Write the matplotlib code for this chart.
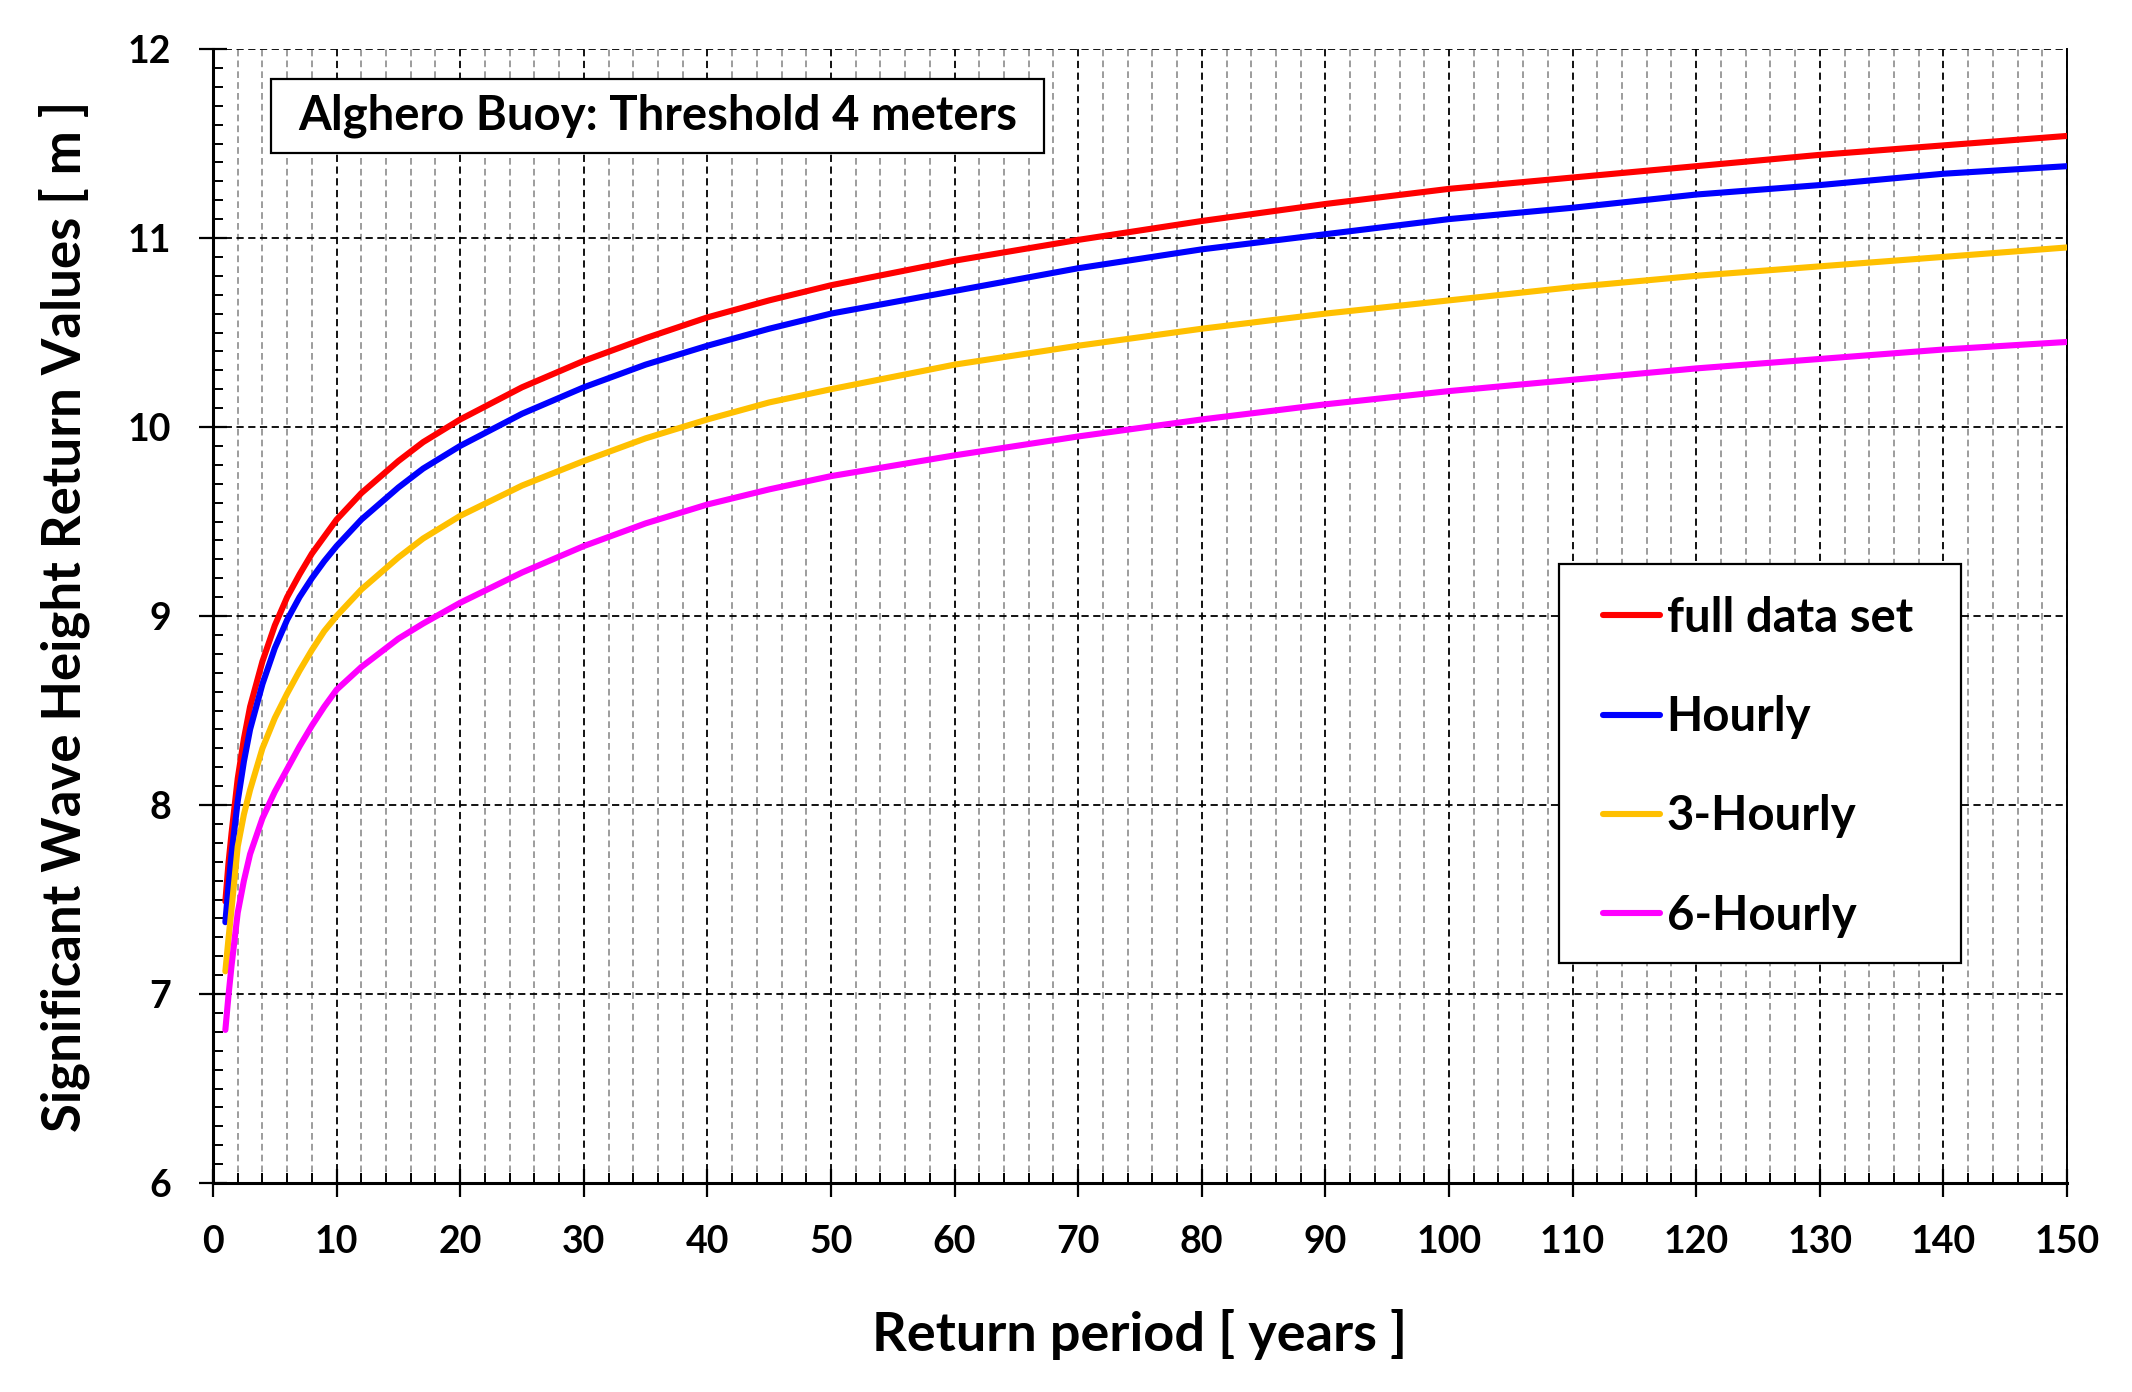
import matplotlib
matplotlib.use("Agg")
import matplotlib.pyplot as plt
from matplotlib.ticker import MultipleLocator
import matplotlib.patches as patches

plt.rcParams['font.family'] = ['Lato', 'DejaVu Sans']
plt.rcParams['font.weight'] = 'bold'

return_period = [1, 1.25, 1.5, 2, 2.5, 3, 4, 5, 6, 7, 8, 9, 10, 12, 15, 17, 20,
                 25, 30, 35, 40, 45, 50, 60, 70, 80, 90, 100, 110, 120, 130,
                 140, 150]
full_data_set = [7.49, 7.69, 7.85, 8.14, 8.35, 8.52, 8.76, 8.95, 9.10, 9.22,
                 9.33, 9.42, 9.51, 9.65, 9.82, 9.92, 10.04, 10.21, 10.35,
                 10.47, 10.58, 10.67, 10.75, 10.88, 10.99, 11.09, 11.18,
                 11.26, 11.32, 11.38, 11.44, 11.49, 11.54]
hourly = [7.38, 7.57, 7.74, 8.02, 8.23, 8.40, 8.64, 8.83, 8.98, 9.10, 9.20,
          9.29, 9.37, 9.51, 9.68, 9.78, 9.90, 10.07, 10.21, 10.33, 10.43,
          10.52, 10.60, 10.72, 10.84, 10.94, 11.02, 11.10, 11.16, 11.23,
          11.28, 11.34, 11.38]
three_hourly = [7.12, 7.29, 7.45, 7.78, 7.95, 8.08, 8.30, 8.46, 8.59, 8.71,
                8.82, 8.92, 9.00, 9.14, 9.31, 9.41, 9.53, 9.69, 9.82, 9.94,
                10.04, 10.13, 10.20, 10.33, 10.43, 10.52, 10.60, 10.67, 10.74,
                10.80, 10.85, 10.90, 10.95]
six_hourly = [6.81, 6.99, 7.15, 7.43, 7.60, 7.74, 7.93, 8.07, 8.19, 8.31, 8.42,
              8.52, 8.61, 8.73, 8.88, 8.96, 9.07, 9.23, 9.37, 9.49, 9.59, 9.67,
              9.74, 9.85, 9.95, 10.04, 10.12, 10.19, 10.25, 10.31, 10.36,
              10.41, 10.45]

series_labels = ['full data set', 'Hourly', '3-Hourly', '6-Hourly']
series_colors = ['#FF0000', '#0000FF', '#FFC000', '#FF00FF']
title_text = 'Alghero Buoy: Threshold 4 meters'

W, H = 2132, 1392
fig = plt.figure(figsize=(W/100, H/100), dpi=100)
ax = fig.add_axes([213/W, 1-1183/H, (2067-213)/W, (1183-49)/H])

for ys, lab, col in zip([full_data_set, hourly, three_hourly, six_hourly],
                        series_labels, series_colors):
    ax.plot(return_period, ys, color=col, lw=4.4, label=lab,
            solid_capstyle='round', solid_joinstyle='round', zorder=3)

ax.set_xlim(0, 150)
ax.set_ylim(6, 12)
ax.xaxis.set_major_locator(MultipleLocator(10))
ax.xaxis.set_minor_locator(MultipleLocator(2))
ax.yaxis.set_major_locator(MultipleLocator(1))
ax.yaxis.set_minor_locator(MultipleLocator(0.1))

ax.grid(which='major', axis='both', color='black', lw=1.3, linestyle=(0, (4, 2.5)))
ax.grid(which='minor', axis='x', color='#8c8c8c', lw=1.2, linestyle=(0, (4, 2.5)))
ax.set_axisbelow(True)

for s in ['left', 'bottom']:
    ax.spines[s].set_linewidth(2.2)
ax.spines['top'].set_visible(False)
ax.spines['right'].set_linewidth(1.4)

ax.tick_params(which='major', direction='inout', length=20, width=1.6,
               labelsize=27, pad=20)
ax.tick_params(which='minor', direction='in', length=7, width=1.4)
ax.tick_params(axis='y', which='both', right=False)
for lbl in ax.get_xticklabels() + ax.get_yticklabels():
    lbl.set_fontweight('bold')

ax.set_xlabel('Return period [ years ]', fontsize=39, fontweight='bold')
ax.xaxis.label.set_va('center')
ax.xaxis.set_label_coords(0.5, -(1335-1183)/1134)
ax.set_ylabel('Significant Wave Height Return Values [ m ]', fontsize=38,
              fontweight='bold')
ax.yaxis.label.set_va('center')
ax.yaxis.set_label_coords(-(213-64)/1854, 0.5)

# title box
rect = patches.Rectangle((271/W, 1-153/H), 773/W, 74/H,
                         transform=fig.transFigure, facecolor='white',
                         edgecolor='black', lw=1.6, zorder=4)
fig.add_artist(rect)
fig.text((271+1044)/2/W, 1-116/H, title_text, fontsize=34,
         fontweight='bold', ha='center', va='center', zorder=5)

# legend frame
leg_rect = patches.Rectangle((1559/W, 1-963/H), 402/W, 399/H,
                             transform=fig.transFigure, facecolor='white',
                             edgecolor='black', lw=1.6, zorder=5)
fig.add_artist(leg_rect)
leg = ax.legend(loc='upper left', bbox_to_anchor=(1603/W, 1-596/H),
                bbox_transform=fig.transFigure, fontsize=34, frameon=False,
                handlelength=1.2, handletextpad=0.15, labelspacing=1.17,
                borderpad=0, borderaxespad=0)
for t in leg.get_texts():
    t.set_fontweight('bold')
for h in leg.get_lines():
    h.set_linewidth(4.4)
leg.remove()
fig.add_artist(leg)
leg.set_zorder(6)

fig.savefig('out.png', dpi=100)
